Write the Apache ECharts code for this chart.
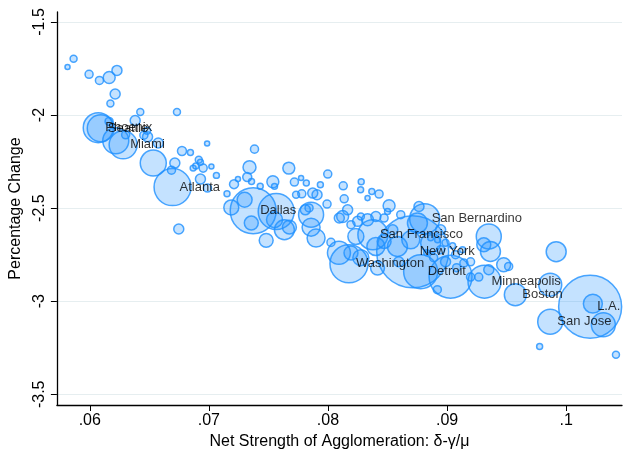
<!DOCTYPE html>
<html>
<head>
<meta charset="utf-8">
<script src="https://cdn.jsdelivr.net/npm/echarts@6/dist/echarts.min.js"></script>
<style>
html,body{margin:0;padding:0;background:#fff;}
#chart{width:623px;height:457px;}
</style>
</head>
<body>
<div id="chart"></div>
<script>
// Net strength of agglomeration (x), percentage change (y), city size (bubble weight)
const xs = [0.05813,0.05864,0.05994,0.06081,0.06163,0.06228,0.06213,0.06173,0.06424,0.06732,
0.06071,0.06092,0.06162,0.06381,0.06301,0.06454,0.06481,0.06485,0.0628,0.06218,
0.06575,0.06533,0.06714,0.06686,0.06774,0.06845,0.06985,0.07383,0.06915,0.06929,
0.06868,0.0689,0.06952,0.07021,0.07341,0.07322,0.07244,0.07211,0.07358,0.07431,
0.07063,0.06929,0.06695,0.07152,0.07188,0.073,0.06747,0.07372,0.07565,0.07634,
0.07481,0.07356,0.07551,0.07676,0.07858,0.07858,0.079,0.07671,0.07537,0.07551,
0.07718,0.07774,0.07818,0.07936,0.07998,0.08128,0.08279,0.08274,0.08368,0.08429,
0.08332,0.08136,0.07992,0.07908,0.07872,0.0778,0.07732,0.07841,0.0781,0.08025,
0.08095,0.08123,0.08165,0.08193,0.08249,0.08276,0.08332,0.08402,0.08471,0.085,
0.08513,0.08377,0.08234,0.08176,0.08416,0.08193,0.08402,0.08471,0.08711,0.08812,
0.08764,0.08695,0.08583,0.08751,0.08862,0.08778,0.09029,0.0935,0.09308,0.09364,
0.09475,0.09517,0.0935,0.09266,0.09314,0.09197,0.09573,0.09916,0.09866,0.09866,
0.10201,0.10224,0.10312,0.09777,0.10418,0.09141,0.08918,0.08862,0.0892,0.08987,
0.09046,0.08946,0.09071,0.0913,0.08887,0.08987,0.09197,0.0908,0.08594,0.08544,
0.08611,0.08946,0.08829,0.08092,0.08276,0.06988];

const ys = [-1.742,-1.698,-1.781,-1.814,-1.798,-1.760,-1.887,-1.938,-1.983,-1.983,
-2.068,-2.071,-2.034,-2.029,-2.106,-2.108,-2.084,-2.117,-2.160,-2.138,
-2.150,-2.258,-2.258,-2.296,-2.193,-2.201,-2.153,-2.183,-2.240,-2.254,
-2.285,-2.274,-2.285,-2.276,-2.280,-2.333,-2.344,-2.371,-2.357,-2.382,
-2.324,-2.344,-2.387,-2.423,-2.496,-2.455,-2.612,-2.514,-2.518,-2.616,
-2.673,-2.580,-2.562,-2.602,-2.535,-2.602,-2.661,-2.285,-2.358,-2.383,
-2.360,-2.338,-2.365,-2.374,-2.317,-2.380,-2.358,-2.401,-2.410,-2.424,
-2.446,-2.450,-2.478,-2.428,-2.419,-2.423,-2.428,-2.499,-2.509,-2.684,
-2.553,-2.545,-2.509,-2.589,-2.571,-2.545,-2.562,-2.545,-2.553,-2.518,
-2.487,-2.643,-2.652,-2.799,-2.822,-2.741,-2.706,-2.679,-2.734,-2.557,
-2.491,-2.670,-2.706,-2.580,-2.687,-2.842,-2.868,-2.652,-2.697,-2.733,
-2.804,-2.813,-2.831,-2.870,-2.895,-2.870,-2.965,-2.734,-2.911,-3.110,
-3.030,-3.013,-3.126,-3.243,-3.287,-2.795,-2.938,-2.659,-2.670,-2.686,
-2.702,-2.723,-2.750,-2.723,-2.766,-2.788,-2.788,-2.820,-2.788,-2.616,
-2.535,-2.616,-2.740,-2.740,-2.766,-2.392];

const pops = [0.08,0.15,0.2,0.2,0.44,0.31,0.31,0.15,0.15,0.15,
2.78,2.25,0.2,0.31,0.2,0.2,0.15,0.31,2.42,2.09,
0.31,2.09,0.31,0.2,0.25,0.11,0.08,0.2,0.15,0.11,
0.11,0.11,0.2,0.08,0.52,0.25,0.08,0.25,0.11,0.11,
0.11,0.31,4.23,0.11,0.69,0.69,0.31,6.53,4,1.23,
0.6,0.6,0.79,0.6,1.93,1,1,0.44,0.44,0.11,
0.2,0.08,0.11,0.11,0.2,0.2,0.11,0.11,0.11,0.2,
0.08,0.2,0.2,0.31,0.31,0.2,0.15,0.2,0.31,0.2,
0.31,0.44,0.31,0.2,0.31,0.15,0.44,0.31,0.2,0.11,
0.44,2.78,0.79,4.46,0.6,0.6,1,0.6,16,2.78,
0.31,1,1.23,1.23,1.23,3.57,5.71,1.93,0.6,1.23,
0.6,0.2,0.31,0.2,3.36,0.2,1.49,1.23,1.63,1.93,
12.25,1.11,1.78,0.11,0.15,0.2,0.2,0.11,0.11,0.15,
0.11,0.2,0.2,0.11,0.2,0.31,0.2,0.2,0.31,0.31,
0.2,0.31,0.11,1.63,0.79,0.2];

const cityLabels = {10:'Phoenix', 11:'Seattle', 18:'Miami', 42:'Atlanta', 47:'Dallas',
  91:'San Francisco', 93:'Washington', 98:'New York', 99:'San Bernardino', 105:'Detroit',
  114:'Minneapolis', 116:'Boston', 119:'San Jose', 120:'L.A.'};

const xTicks = [0.06, 0.07, 0.08, 0.09, 0.1];
const yTicks = [-3.5, -3, -2.5, -2, -1.5];

const data = xs.map((x, i) => ({
  value: [x, ys[i], pops[i]],
  name: cityLabels[i] || ''
}));

const FONT = '"Liberation Sans", Arial, sans-serif';
const chart = echarts.init(document.getElementById('chart'), null, {renderer: 'canvas'});
chart.setOption({
  animation: false,
  backgroundColor: '#fff',
  grid: {left: 55, right: 1, top: 12, bottom: 52, containLabel: false},
  xAxis: {
    type: 'value',
    min: 0.057238, max: 0.104686,
    name: 'Net Strength of Agglomeration: δ-γ/μ',
    nameLocation: 'middle', nameGap: 26,
    nameTextStyle: {fontFamily: FONT, fontSize: 16, color: '#000'},
    axisLine: {show: true, onZero: false, lineStyle: {color: '#000', width: 1.3}},
    axisTick: {show: true, length: 6, customValues: xTicks, lineStyle: {color: '#000'}},
    axisLabel: {customValues: xTicks, fontFamily: FONT, fontSize: 16, color: '#000', margin: 8,
      formatter: v => String(+v.toFixed(2)).replace('0.', '.')},
    splitLine: {show: false}
  },
  yAxis: {
    type: 'value',
    min: -3.5575, max: -1.4463,
    name: 'Percentage Change',
    nameLocation: 'middle', nameGap: 28, nameRotate: 90,
    nameTextStyle: {fontFamily: FONT, fontSize: 16, color: '#000'},
    axisLine: {show: true, onZero: false, lineStyle: {color: '#000', width: 1.3}},
    axisTick: {show: true, length: 6, customValues: yTicks, lineStyle: {color: '#000'}},
    axisLabel: {customValues: yTicks, rotate: 90, fontFamily: FONT, fontSize: 16, color: '#000', margin: 9},
    splitLine: {show: false}
  },
  series: [{
    type: 'scatter',
    data: data,
    symbol: 'circle',
    symbolSize: v => 18 * Math.sqrt(v[2]),
    itemStyle: {color: 'rgba(30,144,255,0.33)', borderColor: '#1e90ff', borderWidth: 1.5},
    label: {
      show: true, position: 'inside', align: 'left', offset: [7, 0],
      formatter: p => p.name, color: '#000', fontFamily: FONT, fontSize: 13,
      textBorderWidth: 0
    },
    emphasis: {disabled: true},
    markLine: {
      silent: true, symbol: 'none', label: {show: false},
      lineStyle: {color: '#e6eef0', width: 1.2, type: 'solid'},
      data: yTicks.map(v => ({yAxis: v})),
      z: 0
    },
    z: 2
  }]
});
</script>
</body>
</html>
